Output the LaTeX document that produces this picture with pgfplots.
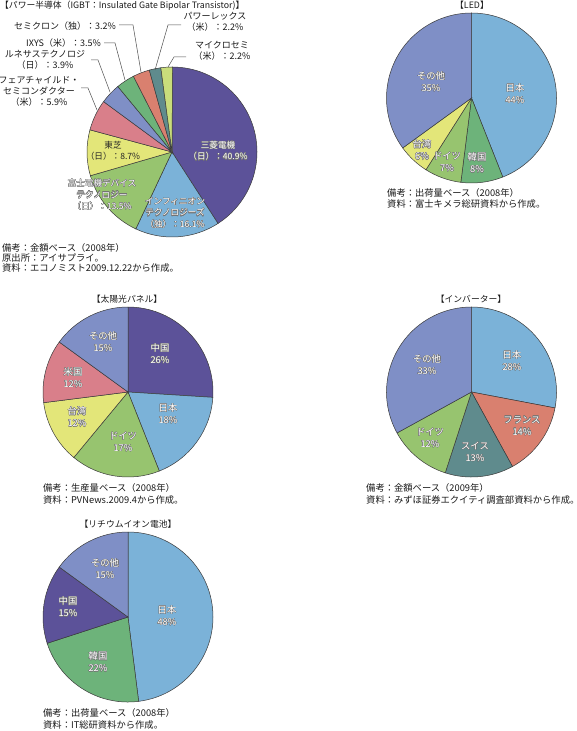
\documentclass[border=0pt]{standalone}
\usepackage{pgfplots}
\pgfplotsset{compat=1.18}
\usepackage{fontspec}
\setmainfont{Noto Sans CJK JP}
\usepackage[copies]{contour}
\contourlength{0.3pt}
\contournumber{16}
\definecolor{cPurple}{HTML}{5C5299}
\definecolor{cLBlue}{HTML}{7BB2D8}
\definecolor{cGreen}{HTML}{97C46F}
\definecolor{cYellow}{HTML}{E3E679}
\definecolor{cPink}{HTML}{D97F8A}
\definecolor{cPeri}{HTML}{7F8FC6}
\definecolor{cMGreen}{HTML}{6DB37A}
\definecolor{cSalmon}{HTML}{D9806F}
\definecolor{cTeal}{HTML}{5F8B8D}
\definecolor{cYG}{HTML}{C9DD7B}
\definecolor{pieline}{HTML}{3A3A3A}
\newcommand\wl[1]{\contour{black!55}{#1}}
% pie slices from percentages, clockwise from 12 o'clock
\newcommand\pieslices[1]{%
  \xdef\pcum{0}%
  \foreach \p/\c in {#1}{%
    \pgfmathsetmacro\aone{90-3.6*\pcum}%
    \pgfmathsetmacro\atwo{90-3.6*(\pcum+\p)}%
    \edef\temp{\noexpand\filldraw[fill=\c,draw=pieline,line width=0.5bp] (axis cs:0,0) -- ++(\aone:85bp) arc[start angle=\aone,end angle=\atwo,radius=85bp] -- cycle;}%
    \temp
    \pgfmathsetmacro\newcum{\pcum+\p}%
    \xdef\pcum{\newcum}%
  }}
\pgfplotsset{pieaxis/.style={anchor=center, x=1bp, y=1bp, xmin=-86, xmax=86, ymin=-86, ymax=86, hide axis, clip=false}}
\begin{document}
\begin{tikzpicture}[x=1bp,y=-1bp,
  lab/.style={align=center, text=white, inner sep=0pt, font=\fontsize{9.3bp}{12bp}\selectfont},
  labs/.style={align=center, text=white, inner sep=0pt, font=\fontsize{8.6bp}{11.5bp}\selectfont},
  txt/.style={inner sep=0pt, font=\fontsize{9bp}{11bp}\selectfont, text=black!90},
  note/.style={inner sep=0pt, font=\fontsize{9.3bp}{11bp}\selectfont, text=black!90, anchor=west},
  ttl/.style={inner sep=0pt, font=\fontsize{8.8bp}{11bp}\selectfont, text=black!90},
  ll/.style={draw=black!70, line width=0.5bp}]
\useasboundingbox (0,0) rectangle (577,731);

% ---------- Power semiconductor ----------
\begin{axis}[pieaxis, at={(172bp,-152bp)}]
\pieslices{40.9/cPurple, 16.1/cLBlue, 13.5/cGreen, 8.7/cYellow, 5.9/cPink, 3.9/cPeri, 3.5/cMGreen, 3.2/cSalmon, 2.2/cTeal, 2.2/cYG}
\end{axis}
\node[ttl, anchor=west] at (0,6) {【パワー半導体（IGBT：Insulated Gate Bipolar Transistor)】};
\node[labs] at (218,151) {\wl{三菱電機}\\\wl{（日）：40.9\%}};
\node[labs] at (175,213) {\wl{インフィニオン}\\\wl{テクノロジーズ}\\\wl{（独）：16.1\%}};
\node[labs] at (102,195) {\wl{富士電機デバイス}\\\wl{テクノロジー}\\\wl{（日）：13.5\%}};
\node[labs, text=black!85] at (113,151) {東芝\\（日）：8.7\%};
\node[txt, anchor=east] at (116,26) {セミクロン（独）：3.2\%};
\node[txt, anchor=east] at (101,43) {IXYS（米）：3.5\%};
\node[txt, align=center] at (45,60) {ルネサステクノロジ\\（日）：3.9\%};
\node[txt, align=center] at (39,91) {フェアチャイルド・\\セミコンダクター\\（米）：5.9\%};
\node[txt, align=center] at (215,22) {パワーレックス\\（米）：2.2\%};
\node[txt, align=center] at (222,51) {マイクロセミ\\（米）：2.2\%};
\draw[ll] (119,25) -- (133,25) -- (141,72);
\draw[ll] (104,43) -- (115,43) -- (125,80);
\draw[ll] (91,60) -- (98,60) -- (110,92);
\draw[ll] (81,88) -- (88,88) -- (97,110);
\draw[ll] (181,25) -- (168,25) -- (155,70);
\draw[ll] (186,57) -- (174,57) -- (168,67);
\node[note] at (2,248) {備考：金額ベース（2008年）};
\node[note] at (2,258) {原出所：アイサプライ。};
\node[note] at (2,268) {資料：エコノミスト2009.12.22から作成。};

% ---------- LED ----------
\begin{axis}[pieaxis, at={(471.5bp,-98bp)}]
\pieslices{44/cLBlue, 8/cMGreen, 7/cGreen, 6/cYellow, 35/cPeri}
\end{axis}
\node[ttl] at (472,5) {【LED】};
\node[lab] at (515,94) {\wl{日本}\\\wl{44\%}};
\node[lab] at (477,163) {\wl{韓国}\\\wl{8\%}};
\node[lab] at (447,162) {\wl{ドイツ}\\\wl{7\%}};
\node[lab] at (422,150) {\wl{台湾}\\\wl{6\%}};
\node[lab] at (431,82) {\wl{その他}\\\wl{35\%}};
\node[note] at (387,193) {備考：出荷量ベース（2008年）};
\node[note] at (387,204) {資料：富士キメラ総研資料から作成。};

% ---------- Solar panel ----------
\begin{axis}[pieaxis, at={(128bp,-392bp)}]
\pieslices{26/cPurple, 18/cLBlue, 17/cGreen, 12/cYellow, 12/cPink, 15/cPeri}
\end{axis}
\node[ttl] at (127,299) {【太陽光パネル】};
\node[lab] at (160,354) {\wl{中国}\\\wl{26\%}};
\node[lab] at (168,414) {\wl{日本}\\\wl{18\%}};
\node[lab] at (123,442) {\wl{ドイツ}\\\wl{17\%}};
\node[lab] at (77,417) {\wl{台湾}\\\wl{12\%}};
\node[lab] at (73,378) {\wl{米国}\\\wl{12\%}};
\node[lab] at (103,342) {\wl{その他}\\\wl{15\%}};
\node[note] at (43,488) {備考：生産量ベース（2008年）};
\node[note] at (43,500) {資料：PVNews.2009.4から作成。};

% ---------- Inverter ----------
\begin{axis}[pieaxis, at={(471.5bp,-392bp)}]
\pieslices{28/cLBlue, 14/cSalmon, 13/cTeal, 12/cGreen, 33/cPeri}
\end{axis}
\node[ttl] at (471,299) {【インバーター】};
\node[lab] at (512,361) {\wl{日本}\\\wl{28\%}};
\node[lab] at (522,426) {\wl{フランス}\\\wl{14\%}};
\node[lab] at (475,452) {\wl{スイス}\\\wl{13\%}};
\node[lab] at (430,438) {\wl{ドイツ}\\\wl{12\%}};
\node[lab] at (427,365) {\wl{その他}\\\wl{33\%}};
\node[note] at (366,488) {備考：金額ベース（2009年）};
\node[note] at (366,500) {資料：みずほ証券エクイティ調査部資料から作成。};

% ---------- Lithium-ion battery ----------
\begin{axis}[pieaxis, at={(128bp,-617bp)}]
\pieslices{48/cLBlue, 22/cMGreen, 15/cPurple, 15/cPeri}
\end{axis}
\node[ttl] at (128,524) {【リチウムイオン電池】};
\node[lab] at (167,616) {\wl{日本}\\\wl{48\%}};
\node[lab] at (98,662) {\wl{韓国}\\\wl{22\%}};
\node[lab] at (68,607) {\wl{中国}\\\wl{15\%}};
\node[lab] at (105,569) {\wl{その他}\\\wl{15\%}};
\node[note] at (43,713) {備考：出荷量ベース（2008年）};
\node[note] at (43,725) {資料：IT総研資料から作成。};
\end{tikzpicture}
\end{document}
